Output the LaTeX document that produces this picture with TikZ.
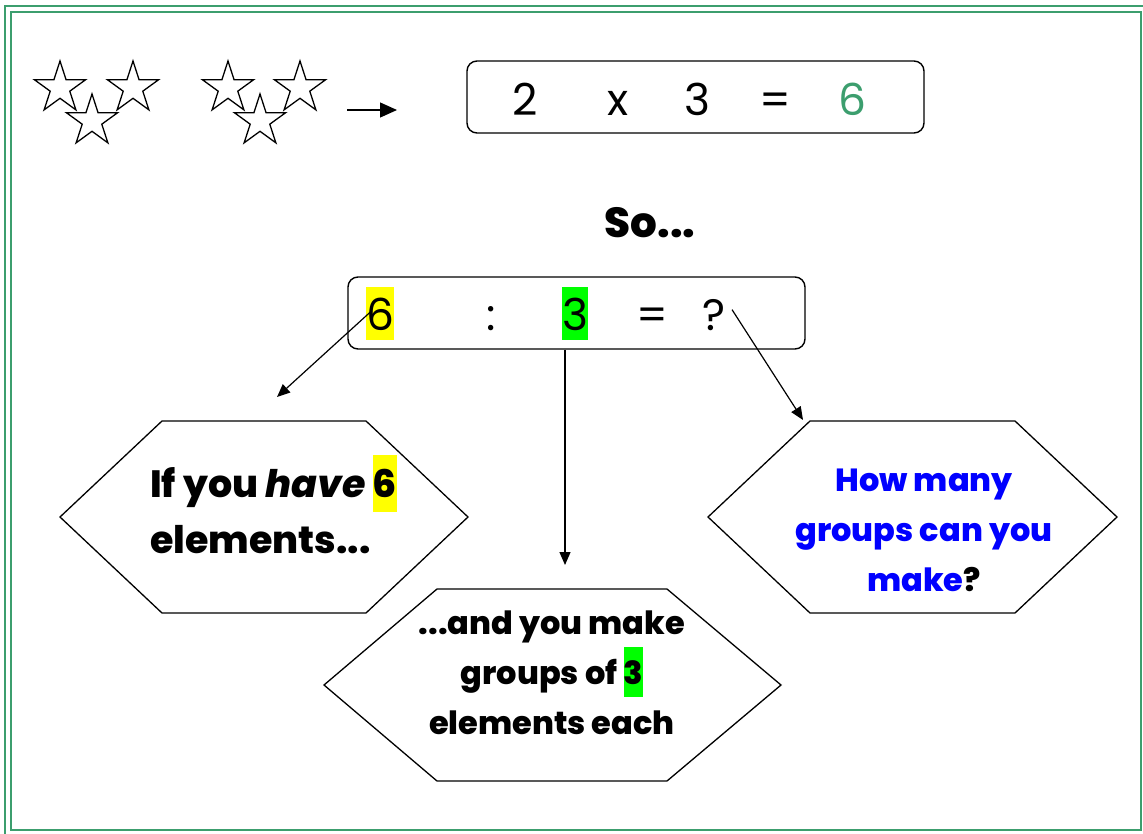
\documentclass[tikz,border=0pt]{standalone}
\usepackage{fontspec}
\setmainfont{Poppins}
\newfontfamily\heavyfont{Poppins}[UprightFont={* ExtraBold},ItalicFont={* ExtraBold Italic}]
\usetikzlibrary{arrows.meta}
\definecolor{framegreen}{RGB}{60,158,110}
\definecolor{hlyellow}{RGB}{255,255,0}
\definecolor{hlgreen}{RGB}{0,255,0}
\definecolor{qblue}{RGB}{0,0,255}
\newcommand{\hlbox}[4]{{\setlength{\fboxsep}{0pt}\colorbox{#1}{\rule[-#2]{0pt}{#3}#4}}}
\tikzset{pics/mystar/.style={code={\draw[fill=white,line width=1.3pt,line join=miter]
  (-90:27) -- (-54:10.3) -- (-18:27) -- (18:10.3) -- (54:27) -- (90:10.3) -- (126:27) -- (162:10.3) -- (198:27) -- (234:10.3) -- cycle;}}}
\begin{document}
\begin{tikzpicture}[x=1pt,y=-1pt,
  arr/.style={line width=1.2pt,-{Triangle[length=13pt,width=11pt]}},
  bigarr/.style={line width=1.3pt,-{Triangle[length=17pt,width=15pt]}},
  hexline/.style={line width=1.3pt,line join=miter},
  eqbox/.style={draw,line width=1.4pt,rounded corners=10pt,minimum width=457pt,minimum height=72pt,inner sep=0pt},
  eqtxt/.style={font=\fontsize{44}{44}\selectfont,inner sep=0pt,anchor=base},
  hextxt/.style={font=\fontsize{32}{50}\selectfont\heavyfont,inner sep=0pt},
  frameline/.style={draw=framegreen,line width=2.4pt}]
\useasboundingbox (0,0) rectangle (1143,833);
% frame
\draw[frameline] (5,6) rectangle (1148,838);
\draw[frameline] (11,12) rectangle (1141,830);
% stars
\pic at (60,88) {mystar};
\pic at (133,88) {mystar};
\pic at (92,121) {mystar};
\pic at (228,88) {mystar};
\pic at (300,88) {mystar};
\pic at (260,121) {mystar};
\coordinate (sa) at (347,110);
\coordinate (sb) at (397,110);
\draw[bigarr] (sa) -- (sb);
% multiplication box
\node[eqbox] (mulbox) at (695.5,97) {};
\node[eqtxt] (m2) at (525,115) {2};
\node[eqtxt] (mx) at (618,115) {x};
\node[eqtxt] (m3) at (697,115) {3};
\node[eqtxt] (meq) at (775,115) {=};
\node[eqtxt,text=framegreen] (m6) at (852,115) {6};
% So...
\node[font=\fontsize{42}{42}\selectfont\heavyfont,inner sep=0pt,anchor=base] (so) at (650,237) {So...};
% division box
\node[eqbox] (divbox) at (576.5,313) {};
\node[eqtxt] (d6) at (380,330) {\hlbox{hlyellow}{10pt}{53pt}{6}};
\node[eqtxt] (dc) at (491,330) {:};
\node[eqtxt] (d3) at (575,330) {\hlbox{hlgreen}{10pt}{53pt}{3}};
\node[eqtxt] (deq) at (652,330) {=};
\node[eqtxt] (dq) at (714,330) {?};
% hexagons
\draw[hexline] (162,421) -- (366,421) -- (468,517) -- (366,613) -- (162,613) -- (60,517) -- cycle;
\draw[hexline] (437,589) -- (667,589) -- (781,685) -- (667,781) -- (437,781) -- (324,685) -- cycle;
\draw[hexline] (810,421) -- (1015,421) -- (1117,517) -- (1015,613) -- (810,613) -- (708,517) -- cycle;
\node[hextxt,font=\fontsize{38}{56}\selectfont\heavyfont,align=left,anchor=north west] (hl) at (150,455) {If you \textit{have} \hlbox{hlyellow}{15pt}{57pt}{6}\\elements...};
\node[hextxt,align=center] (hm) at (552,673) {...and you make\\groups of \hlbox{hlgreen}{12pt}{50pt}{3}\\elements each};
\node[hextxt,align=center,text=qblue] (hr) at (924,530) {How many\\groups can you\\make\textcolor{black}{?}};
% arrows
\coordinate (a1) at (277,397);
\coordinate (a2) at (565,565);
\coordinate (a3) at (803,420);
\draw[arr] ([shift={(-8,-3)}]d6.center) -- (a1);
\draw[arr] (divbox.south -| a2) -- (a2);
\draw[arr] ([shift={(18,-5)}]dq.center) -- (a3);
\end{tikzpicture}
\end{document}
